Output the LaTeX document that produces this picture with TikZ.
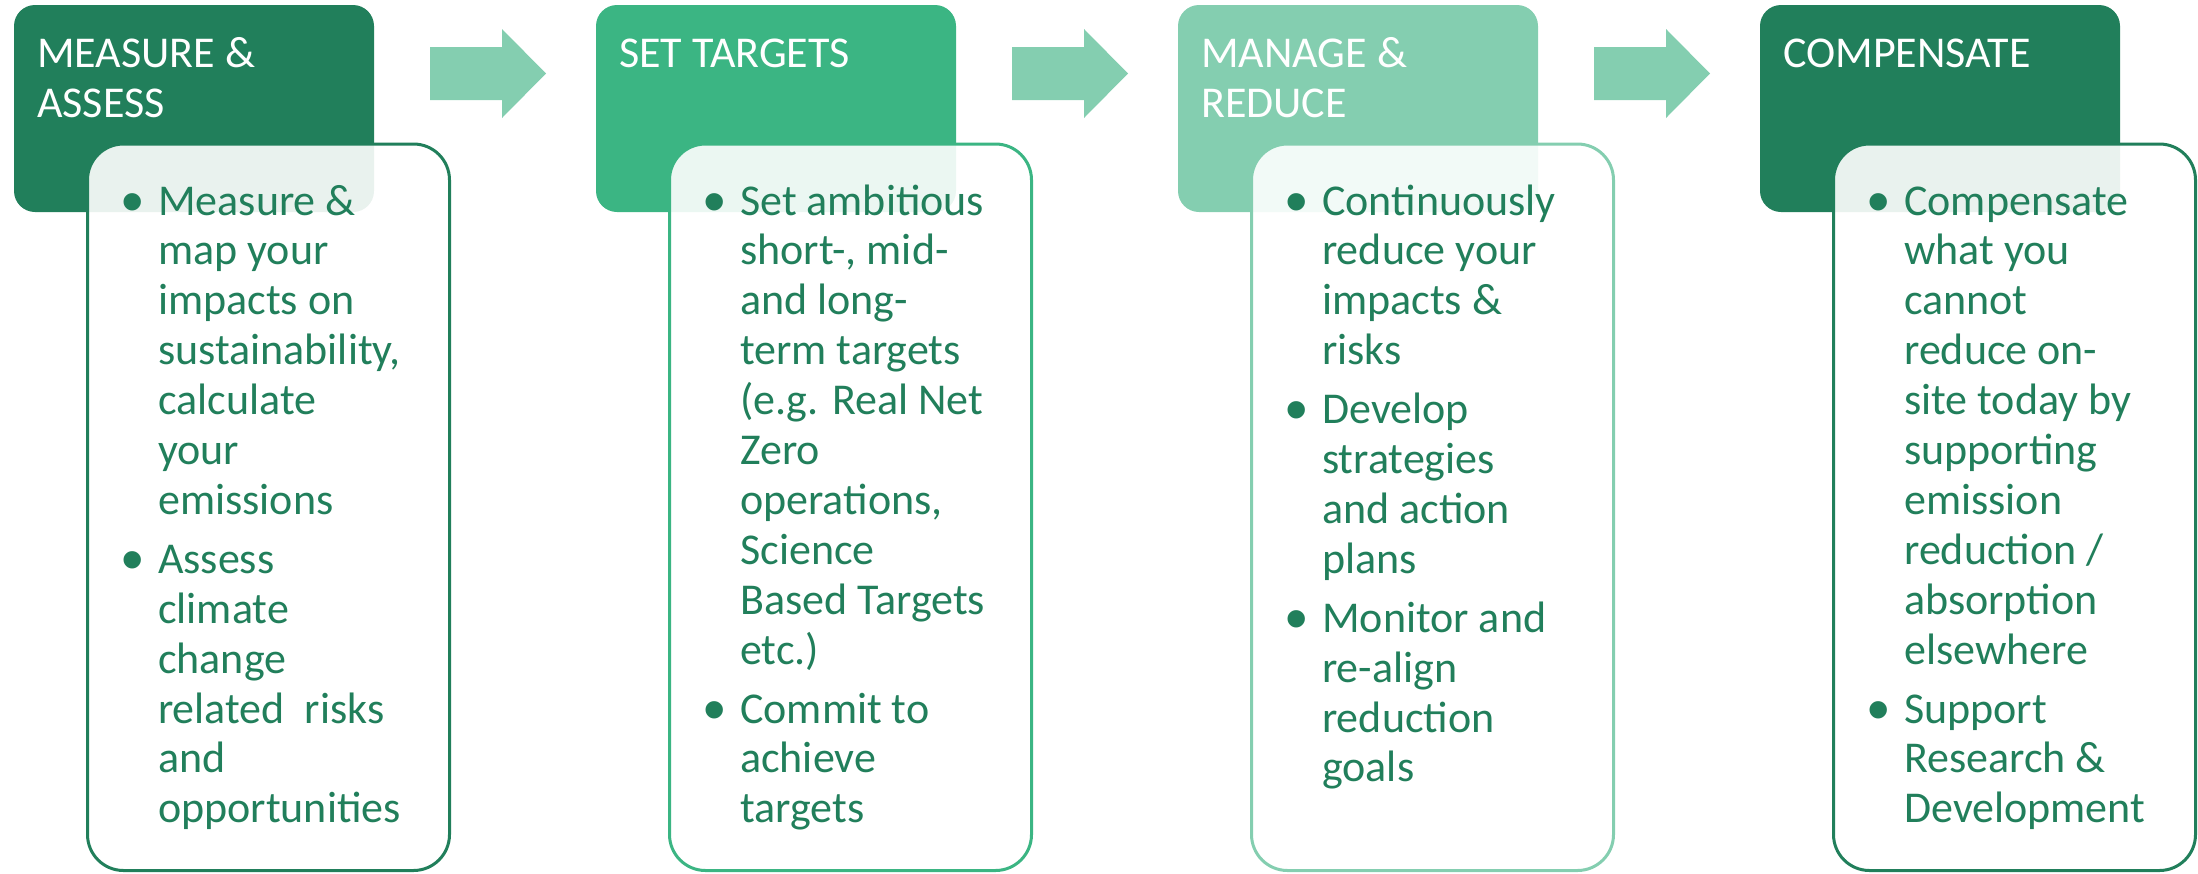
\documentclass[tikz,border=0pt]{standalone}
\usepackage{fontspec}
\setmainfont{Carlito}
\newfontfamily\bulletfont{Liberation Sans}
\definecolor{dkgreen}{RGB}{33,127,91}
\definecolor{mdgreen}{RGB}{59,181,131}
\definecolor{ltgreen}{RGB}{132,206,176}
\newcommand{\bul}{\llap{\hbox to 51pt{\hss\raisebox{-8pt}{\bulletfont\fontsize{64}{64}\selectfont •}\hss}}}
\newcommand{\bfirst}{\noindent\bul}
\newcommand{\bp}{\par\noindent\bul}
\newcommand{\bodytext}[1]{\parbox[t]{400pt}{\raggedright\fontsize{44}{49.9}\selectfont\setlength{\parskip}{9pt}#1}}
\newcommand{\hdrlines}[1]{\parbox[t]{340pt}{\raggedright\fontsize{44}{50}\selectfont #1}}
\tikzset{
  hdrbox/.style={rounded corners=21pt},
  bodybox/.style={rounded corners=36pt, fill=white, fill opacity=0.9, line width=3pt},
  hdrtext/.style={anchor=base west, inner sep=0pt, text=white},
  btext/.style={anchor=base west, inner sep=0pt, text=dkgreen},
  blockarrow/.style={fill=ltgreen}
}
\begin{document}
\begin{tikzpicture}[x=1pt,y=-1pt]
\useasboundingbox (0,0) rectangle (2198,873);
% headers
\fill[hdrbox, dkgreen] (14,5) rectangle (374,212);
\fill[hdrbox, mdgreen] (596,5) rectangle (956,212);
\fill[hdrbox, ltgreen] (1178,5) rectangle (1538,212);
\fill[hdrbox, dkgreen] (1760,5) rectangle (2120,212);
% arrows
\fill[blockarrow] (430,47) -- (502,47) -- (502,29) -- (546,73.5) -- (502,118) -- (502,100) -- (430,100) -- cycle;
\fill[blockarrow] (1012,47) -- (1084,47) -- (1084,29) -- (1128,73.5) -- (1084,118) -- (1084,100) -- (1012,100) -- cycle;
\fill[blockarrow] (1594,47) -- (1666,47) -- (1666,29) -- (1710,73.5) -- (1666,118) -- (1666,100) -- (1594,100) -- cycle;
% header titles
\node[hdrtext] (t1) at (37,67) {\hdrlines{MEASURE \&\\ASSESS}};
\node[hdrtext] (t2) at (619,67) {\hdrlines{SET TARGETS}};
\node[hdrtext] (t3) at (1201,67) {\hdrlines{MANAGE \&\\REDUCE}};
\node[hdrtext] (t4) at (1783,67) {\hdrlines{COMPENSATE}};
% bodies
\draw[bodybox, draw=dkgreen] (87.5,144) rectangle (449.5,870.5);
\draw[bodybox, draw=mdgreen] (669.5,144) rectangle (1031.5,870.5);
\draw[bodybox, draw=ltgreen] (1251.5,144) rectangle (1613.5,870.5);
\draw[bodybox, draw=dkgreen] (1833.5,144) rectangle (2195.5,870.5);
% body texts
\node[btext] (b1) at (158,215) {\bodytext{\bfirst Measure \&\\map your\\impacts on\\sustainability,\\calculate\\your\\emissions\bp Assess\\climate\\change\\related\ \ risks\\and\\opportunities}};
\node[btext] (b2) at (740,215) {\bodytext{\bfirst Set ambitious\\short-, mid-\\and long-\\term targets\\(e.g. Real Net\\Zero\\operations,\\Science\\Based Targets\\etc.)\bp Commit to\\achieve\\targets}};
\node[btext] (b3) at (1322,215) {\bodytext{\bfirst Continuously\\reduce your\\impacts \&\\risks\bp Develop\\strategies\\and action\\plans\bp Monitor and\\re-align\\reduction\\goals}};
\node[btext] (b4) at (1904,215) {\bodytext{\bfirst Compensate\\what you\\cannot\\reduce on-\\site today by\\supporting\\emission\\reduction /\\absorption\\elsewhere\bp Support\\Research \&\\Development}};
\end{tikzpicture}
\end{document}
